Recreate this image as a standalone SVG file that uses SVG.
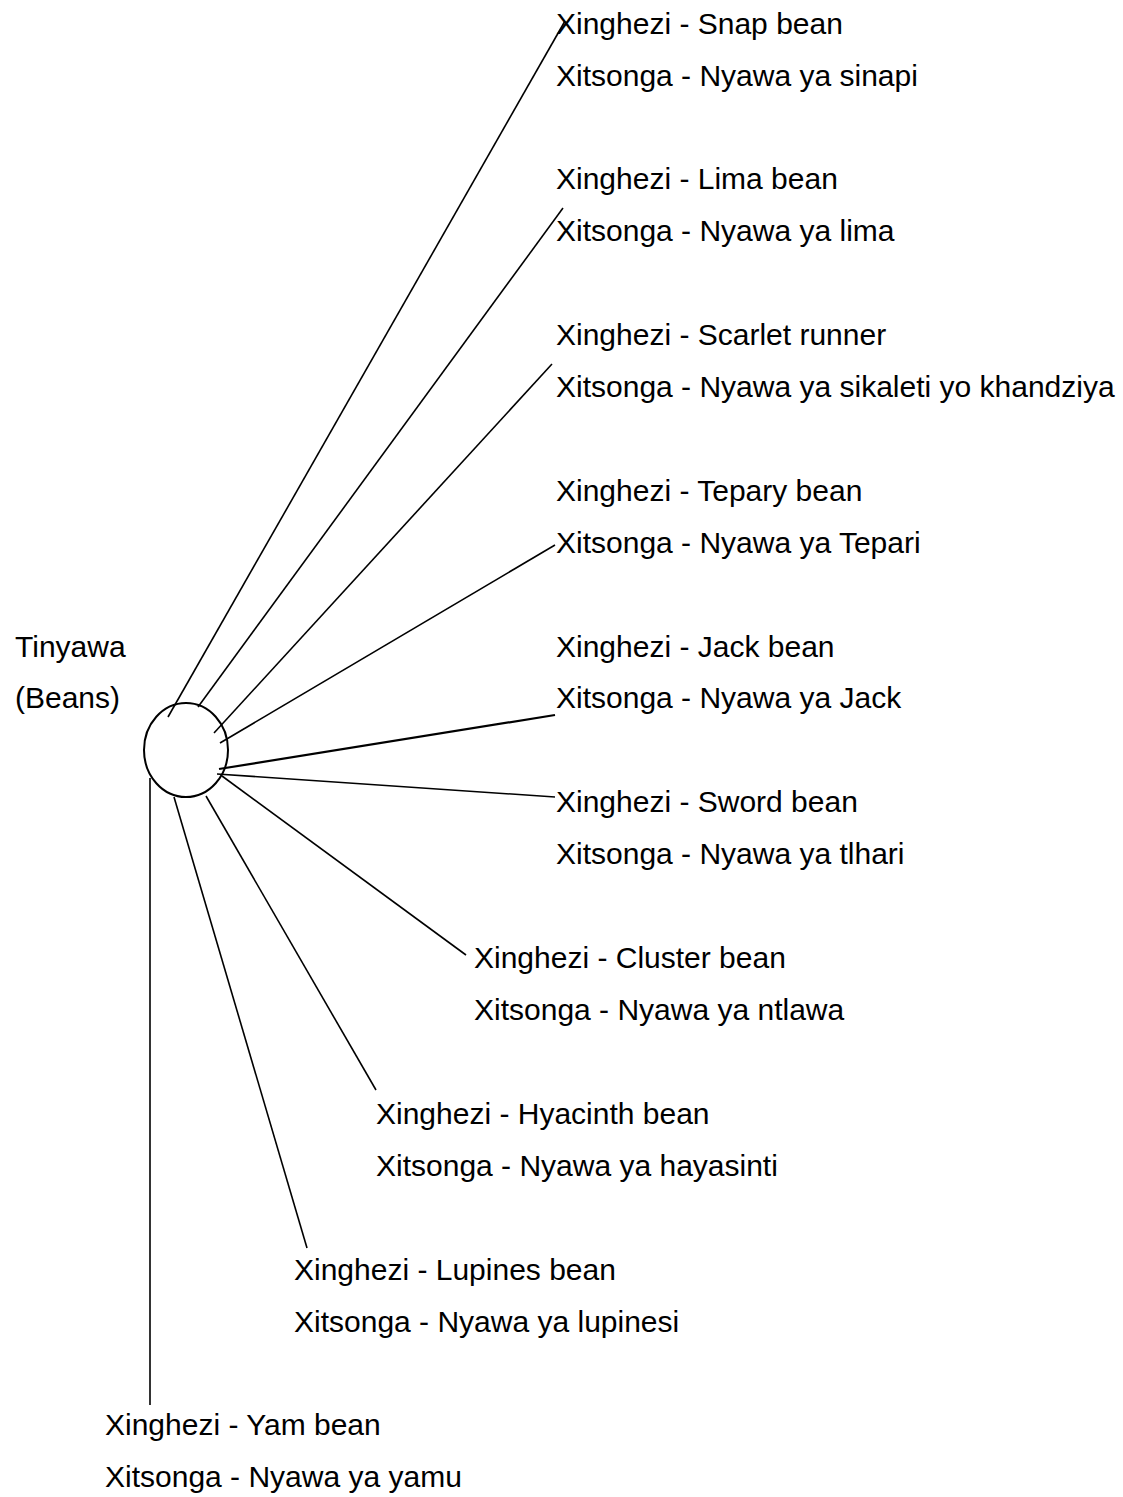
<svg xmlns="http://www.w3.org/2000/svg" width="1123" height="1497" viewBox="0 0 1123 1497">
<style>
text{font-family:"Liberation Sans",Arial,sans-serif;font-size:30px;fill:#000}
.c{fill:none;stroke:#000;stroke-width:1.6}
</style>
<rect width="1123" height="1497" fill="#fff"/>
<g id="connectors">
<line class="c" x1="168" y1="717" x2="565" y2="21"/>
<line class="c" x1="198" y1="707" x2="563" y2="208"/>
<line class="c" x1="214" y1="733" x2="552" y2="364"/>
<line class="c" x1="220" y1="743" x2="555" y2="545"/>
<line class="c" x1="219" y1="769" x2="555" y2="715" style="stroke-width:2.2"/>
<line class="c" x1="217" y1="774" x2="555" y2="797"/>
<line class="c" x1="222" y1="776" x2="466" y2="955"/>
<line class="c" x1="206" y1="796" x2="376" y2="1090"/>
<line class="c" x1="174" y1="797" x2="307" y2="1248"/>
<line class="c" x1="150" y1="778" x2="150" y2="1405"/>
</g>
<g id="center">
<ellipse cx="186" cy="750" rx="42" ry="47" fill="none" stroke="#000" stroke-width="2"/>
<text x="15" y="657">Tinyawa</text>
<text x="15" y="708">(Beans)</text>
</g>
<g id="snap"><text x="556" y="34">Xinghezi - Snap bean</text><text x="556" y="86">Xitsonga - Nyawa ya sinapi</text></g>
<g id="lima"><text x="556" y="189">Xinghezi - Lima bean</text><text x="556" y="241">Xitsonga - Nyawa ya lima</text></g>
<g id="scarlet"><text x="556" y="345">Xinghezi - Scarlet runner</text><text x="556" y="397">Xitsonga - Nyawa ya sikaleti yo khandziya</text></g>
<g id="tepary"><text x="556" y="501">Xinghezi - Tepary bean</text><text x="556" y="553">Xitsonga - Nyawa ya Tepari</text></g>
<g id="jack"><text x="556" y="657">Xinghezi - Jack bean</text><text x="556" y="708">Xitsonga - Nyawa ya Jack</text></g>
<g id="sword"><text x="556" y="812">Xinghezi - Sword bean</text><text x="556" y="864">Xitsonga - Nyawa ya tlhari</text></g>
<g id="cluster"><text x="474" y="968">Xinghezi - Cluster bean</text><text x="474" y="1020">Xitsonga - Nyawa ya ntlawa</text></g>
<g id="hyacinth"><text x="376" y="1124">Xinghezi - Hyacinth bean</text><text x="376" y="1176">Xitsonga - Nyawa ya hayasinti</text></g>
<g id="lupines"><text x="294" y="1280">Xinghezi - Lupines bean</text><text x="294" y="1332">Xitsonga - Nyawa ya lupinesi</text></g>
<g id="yam"><text x="105" y="1435">Xinghezi - Yam bean</text><text x="105" y="1487">Xitsonga - Nyawa ya yamu</text></g>
</svg>
